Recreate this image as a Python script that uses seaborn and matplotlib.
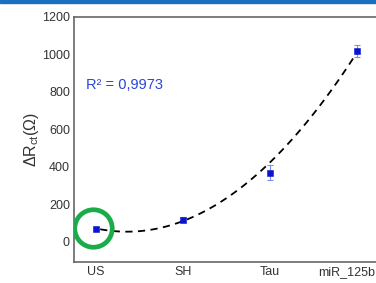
import matplotlib
matplotlib.use("Agg")
import matplotlib.pyplot as plt
import matplotlib.transforms as mtransforms
import numpy as np
import seaborn as sns
from matplotlib.patches import Rectangle

samples = ["US", "SH", "Tau", "miR_125b"]
delta_rct = [70, 119, 370, 1020]
delta_err = [8, 12, 42, 32]
r2_text = "R² = 0,9973"

sns.set_theme(style="white")
plt.rcParams["font.family"] = ["Liberation Sans", "DejaVu Sans"]

fig = plt.figure(figsize=(3.76, 2.83), dpi=100)
ax = fig.add_axes([0.197, 0.074, 0.81, 0.866])

pos = np.arange(len(samples))

# quadratic trend through the points (low end weighted more)
coef = np.polyfit(pos, delta_rct, 2, w=[4, 4, 1.5, 2])
xs = np.linspace(0.05, 3, 100)
sns.lineplot(x=xs, y=np.polyval(coef, xs), ax=ax, color="black",
             linestyle=(0, (4, 3)), linewidth=1.3)

ax.errorbar(pos, delta_rct, yerr=delta_err, fmt="none", ecolor="#7f8cf0",
            elinewidth=0.8, capsize=2.5, capthick=0.8, zorder=3)
sns.scatterplot(x=pos, y=delta_rct, ax=ax, marker="s", s=24, color="#0a14d0",
                edgecolor="#0a14d0", zorder=4)

# highlight circle around US
ax.plot([pos[0] - 0.03], [delta_rct[0] + 5], marker="o", markersize=27,
        markerfacecolor="none", markeredgecolor="#1cab4b", markeredgewidth=3.4,
        zorder=5)

ax.text(-0.115, 837, r2_text, color="#2b45d8", fontsize=10.5, va="center")

ax.set_xlim(-0.25, 3.25)
ax.set_ylim(-107, 1200)
ax.set_xticks(pos)
ax.set_xticklabels(samples)
ax.set_yticks(range(0, 1201, 200))
ax.tick_params(length=0, labelsize=9, colors="#333333", pad=3)
ax.tick_params(axis="x", pad=3)
ax.set_ylabel("ΔR$_{\\mathregular{ct}}$(Ω)", fontsize=11.5, color="#333333", labelpad=1)

# last label sits a bit left so it fits in the figure
last = ax.get_xticklabels()[-1]
last.set_transform(last.get_transform() +
                   mtransforms.ScaledTranslation(-10 / 100, 0, fig.dpi_scale_trans))

for s in ax.spines.values():
    s.set_color("#666666")
    s.set_linewidth(1.2)

fig.patches.append(Rectangle((0, 0.99), 1, 0.01, transform=fig.transFigure,
                             color="#1a6fbf", zorder=10))

fig.savefig("out.png", dpi=100)
